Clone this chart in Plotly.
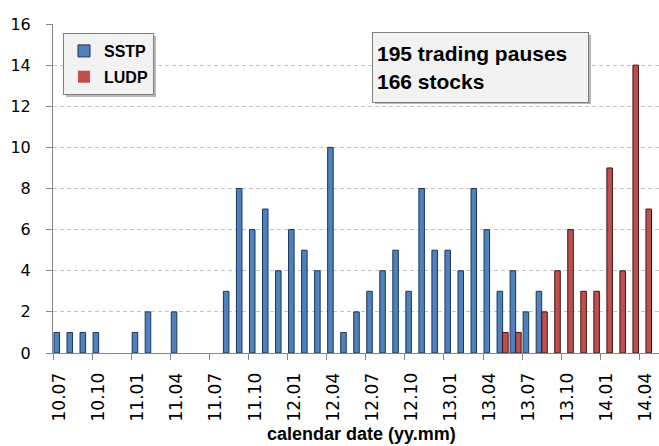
import plotly.graph_objects as go

months = ["10.07", "10.08", "10.09", "10.10", "10.11", "10.12",
          "11.01", "11.02", "11.03", "11.04", "11.05", "11.06",
          "11.07", "11.08", "11.09", "11.10", "11.11", "11.12",
          "12.01", "12.02", "12.03", "12.04", "12.05", "12.06",
          "12.07", "12.08", "12.09", "12.10", "12.11", "12.12",
          "13.01", "13.02", "13.03", "13.04", "13.05", "13.06",
          "13.07", "13.08", "13.09", "13.10", "13.11", "13.12",
          "14.01", "14.02", "14.03", "14.04"]

sstp = [1, 1, 1, 1, 0, 0,
        1, 2, 0, 2, 0, 0,
        0, 3, 8, 6, 7, 4,
        6, 5, 4, 10, 1, 2,
        3, 4, 5, 3, 8, 5,
        5, 4, 8, 6, 3, 4,
        2, 3, 0, 0, 0, 0,
        0, 0, 0, 0]

ludp = [0, 0, 0, 0, 0, 0,
        0, 0, 0, 0, 0, 0,
        0, 0, 0, 0, 0, 0,
        0, 0, 0, 0, 0, 0,
        0, 0, 0, 0, 0, 0,
        0, 0, 0, 0, 1, 1,
        0, 2, 4, 6, 3, 3,
        9, 4, 14, 7]

tick_step = 3
note_lines = ["195 trading pauses", "166 stocks"]

# plot-area geometry in pixels (for placing boxes)
W, H = 659, 446
L, R, T, B = 53, 659, 24, 353


def fx(p):
    return (p - L) / (R - L)


def fy(p):
    return (B - p) / (B - T)


idx = list(range(len(months)))

fig = go.Figure()
fig.add_trace(go.Bar(
    x=idx, y=sstp, name="SSTP", legendgroup="a",
    marker=dict(color="#4F81BD",
                line=dict(color="#1B3557", width=[1 if v else 0 for v in sstp])),
))
fig.add_trace(go.Bar(
    x=idx, y=ludp, name="LUDP", legendgroup="b",
    marker=dict(color="#C0504D",
                line=dict(color="#3E1413", width=[1 if v else 0 for v in ludp])),
))

shadow = "rgba(0,0,0,0.28)"
shapes = [
    # legend shadow
    dict(type="rect", xref="paper", yref="paper",
         x0=fx(66), x1=fx(156), y0=fy(97), y1=fy(36),
         fillcolor=shadow, line=dict(width=0), layer="above"),
    # note box shadow
    dict(type="rect", xref="paper", yref="paper",
         x0=fx(375), x1=fx(591), y0=fy(104), y1=fy(35),
         fillcolor=shadow, line=dict(width=0), layer="above"),
]

annotations = [
    dict(text="<b>" + "<br>".join(note_lines) + "</b>",
         xref="paper", yref="paper", x=fx(372), y=fy(32),
         xanchor="left", yanchor="top", showarrow=False, align="left",
         width=207, height=61, borderpad=4, borderwidth=1,
         bordercolor="#7F7F7F", bgcolor="#F2F2F2",
         font=dict(family="Liberation Sans", size=21, color="#000000")),
    dict(text="<b>calendar date (yy.mm)</b>",
         xref="paper", yref="paper", x=fx(361), y=fy(434),
         xanchor="center", yanchor="middle", showarrow=False,
         font=dict(family="Liberation Sans", size=18, color="#000000")),
]

fig.update_layout(
    width=W, height=H,
    margin=dict(l=L, r=W - R, t=T, b=H - B, pad=0),
    paper_bgcolor="white", plot_bgcolor="white",
    barmode="group", bargap=0.15, bargroupgap=0,
    showlegend=True,
    legend=dict(x=fx(63), y=fy(33), xanchor="left", yanchor="top",
                bgcolor="#F2F2F2", bordercolor="#7F7F7F", borderwidth=1,
                font=dict(family="Liberation Sans", size=16, color="#000000",
                          weight="bold"),
                traceorder="grouped", tracegroupgap=2),
    shapes=shapes,
    annotations=annotations,
    xaxis=dict(
        range=[-0.5, len(months)],
        tickmode="array", tickvals=idx[::tick_step], ticktext=months[::tick_step],
        tickangle=-90, ticks="", showgrid=False, zeroline=False,
        showline=True, linecolor="#868686", linewidth=1,
        tickfont=dict(family="DejaVu Sans", size=17, color="#000000"),
        ticklabelstandoff=12,
        minor=dict(tick0=-0.5, dtick=tick_step, ticks="outside", ticklen=6,
                   tickcolor="#868686", showgrid=False),
    ),
    yaxis=dict(
        range=[0, 16], dtick=2, tick0=0,
        showgrid=True, gridcolor="#C4C4C4", griddash="4px,3px", gridwidth=1,
        zeroline=False, showline=True, linecolor="#868686", linewidth=1,
        ticks="outside", ticklen=6, tickcolor="#868686",
        tickfont=dict(family="DejaVu Sans", size=16, color="#000000"),
        ticklabelstandoff=12,
    ),
)

fig.write_html("out.html",
               config={"displayModeBar": False},
               post_script="document.body.style.margin='0';"
                           "document.body.style.padding='0';")
